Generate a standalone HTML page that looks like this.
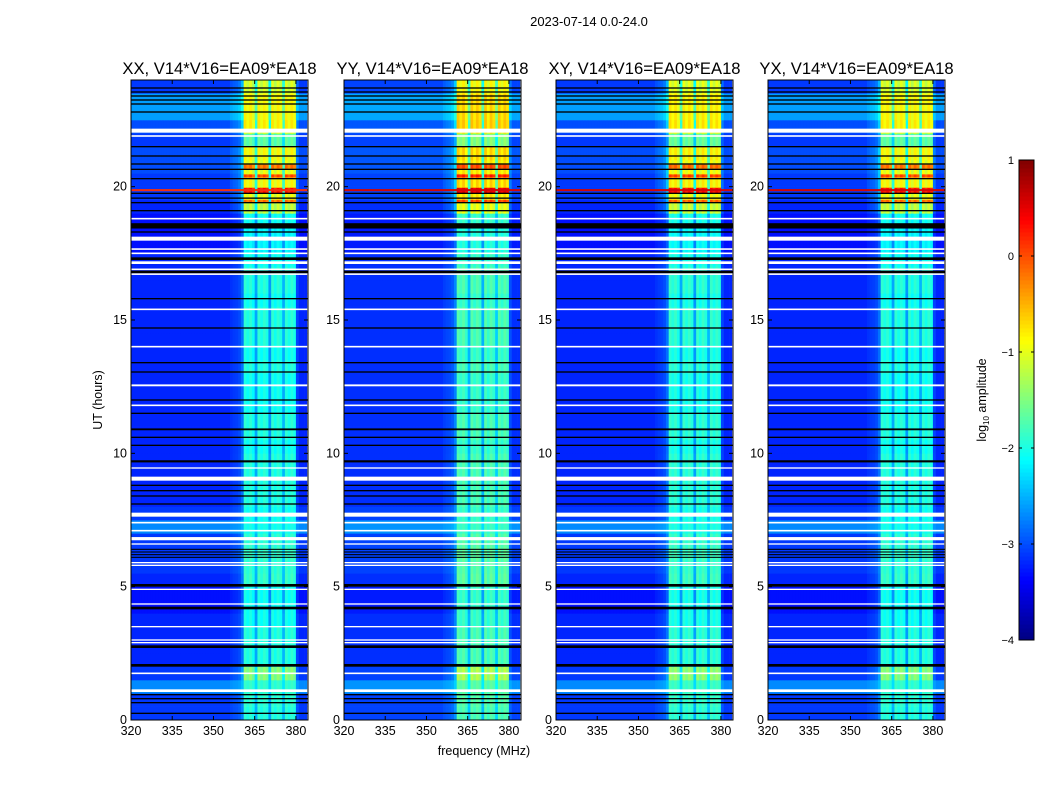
<!DOCTYPE html>
<html><head><meta charset="utf-8">
<style>
body{margin:0;background:#fff;width:1050px;height:800px;overflow:hidden;font-family:"Liberation Sans",sans-serif}
svg text{font-family:"Liberation Sans",sans-serif}
</style></head>
<body>
<svg id="fig" width="1050" height="800" xmlns="http://www.w3.org/2000/svg">
<text x="589" y="26" font-size="13" text-anchor="middle">2023-07-14 0.0-24.0</text>
<text x="484" y="755" font-size="12.5" text-anchor="middle">frequency (MHz)</text>
<text transform="translate(102,400) rotate(-90)" font-size="12.5" text-anchor="middle">UT (hours)</text>
<text transform="translate(986,400) rotate(-90)" font-size="12.5" text-anchor="middle">log<tspan font-size="8" dy="3">10</tspan><tspan dy="-3"> amplitude</tspan></text>
<g id="panels"></g>
<g id="cbar"></g>
</svg>
<script>
// ---- data ----
const panelTitles = ["XX, V14*V16=EA09*EA18","YY, V14*V16=EA09*EA18","XY, V14*V16=EA09*EA18","YX, V14*V16=EA09*EA18"];
const panelLeft = [131,344,556,768];
const xTicks = [320,335,350,365,380];
const yTicks = [0,5,10,15,20];
const cbarTicks = [1,0,-1,-2,-3,-4];
// band weight per 1 MHz bin, 320..384
const colWeight = [0,0,0,0,0,0,0,0,0,0, 0,0,0,0,0,0,0,0,0,0, 0,0,0,0,0,0,0,0,0,0, 0,0,0,0,0,0,0.05,0.08,0.1,0.15, 0.3,1,0.92,1,0.88,0.5,1,0.9,1,0.92, 0.45,1,0.88,1,0.92,0.55,1,0.9,1,0.92, 0.12,0,0,0];
// background log amplitude per 0.5 h, 0..24
const rowBase = [-3.1,-3.1,-2.7,-3.1,-3.2,-3.2,-3.2,-3.2,-3.3,-3.3, -3.2,-3.1,-3.1,-3.1,-2.7,-3.1,-3.2,-3.2,-3.2,-3.2, -3.2,-3.2,-3.2,-3.2,-3.2,-3.2,-3.2,-3.2,-3.2,-3.2, -3.2,-3.2,-3.2,-3.2,-3.2,-3.3,-3.3,-3.3,-3.2,-3.1, -3.1,-3.0,-3.0,-3.1,-3.0,-2.6,-2.6,-3.1];
// band log amplitude per 0.5 h
const rowBand = [-1.9,-1.85,-1.85,-1.4,-1.9,-1.9,-1.9,-2.0,-2.0,-2.0, -1.8,-1.85,-1.8,-1.85,-2.0,-2.0,-1.9,-1.9,-1.9,-1.9, -2.0,-1.9,-1.9,-2.0,-2.0,-2.0,-1.9,-2.0,-1.9,-1.9, -1.9,-2.0,-1.9,-1.9,-2.0,-2.1,-2.1,-2.0,-1.1,-0.9, -0.8,-0.9,-0.8,-1.6,-0.9,-0.8,-0.8,-1.0];
const panelBandShift = [0,0.2,0.05,0.0];
const panelBgShift = [0,0.05,0,0];
// thin rows: [hour, thickness h]
const redRows = [[19.87,0.08]];
// hot rows inside band only: [hour, thickness h, log amplitude]
const hotRows = [[20.75,0.15,-0.1],[20.4,0.12,0.1],[19.85,0.22,0.35],[19.45,0.12,-0.1],[22.3,0.4,-0.75]];
const whiteRows = [[22.1,0.15],[21.9,0.06],[18.8,0.06],[18.05,0.15],[17.66,0.06],[17.5,0.06],[17.15,0.1],[16.9,0.06],[16.72,0.06],[15.4,0.06],[14.0,0.06],[12.55,0.07],[11.8,0.06],[9.45,0.05],[9.05,0.15],[7.7,0.15],[7.4,0.06],[7.1,0.06],[6.8,0.12],[6.6,0.05],[5.9,0.05],[5.8,0.05],[4.9,0.05],[4.35,0.05],[3.5,0.05],[3.0,0.05],[2.9,0.05],[1.75,0.06],[1.1,0.1]];
const blackRows = [[23.7,0.05],[23.55,0.05],[23.4,0.05],[23.25,0.05],[23.1,0.05],[22.8,0.05],[21.5,0.05],[21.15,0.05],[20.85,0.05],[20.65,0.05],[20.3,0.05],[19.75,0.05],[19.57,0.05],[19.4,0.05],[19.1,0.05],[18.53,0.2],[18.3,0.05],[17.3,0.1],[16.8,0.1],[15.8,0.05],[14.7,0.05],[13.4,0.05],[13.05,0.05],[12.0,0.05],[11.5,0.05],[10.9,0.07],[10.6,0.05],[10.3,0.05],[9.7,0.08],[8.8,0.05],[8.6,0.05],[8.4,0.05],[8.1,0.05],[6.4,0.04],[6.3,0.04],[6.2,0.04],[6.1,0.04],[5.05,0.1],[4.2,0.1],[2.75,0.1],[2.05,0.1],[0.95,0.05],[0.8,0.05],[0.65,0.05],[0.25,0.05]];

// ---- scales ----
const W=177, plotTop=80, plotBot=720, fMin=320, fMax=384.4, tMax=24;
const xs = (f,L)=>L+(f-fMin)/(fMax-fMin)*W;
const ys = t=>plotBot-t/tMax*(plotBot-plotTop);
const vMin=-4, vMax=1;
function jet(v){
  let x=(v-vMin)/(vMax-vMin); x=Math.max(0,Math.min(1,x));
  const c=a=>Math.round(255*Math.max(0,Math.min(1,a)));
  const r=c(1.5-Math.abs(4*x-3)), g=c(1.5-Math.abs(4*x-2)), b=c(1.5-Math.abs(4*x-1));
  return `rgb(${r},${g},${b})`;
}
const NS="http://www.w3.org/2000/svg";
function mk(tag,attrs,parent){const e=document.createElementNS(NS,tag);for(const k in attrs)e.setAttribute(k,attrs[k]);parent.appendChild(e);return e;}
const panels=document.getElementById('panels');
const nT=rowBase.length, dT=tMax/nT, nF=colWeight.length;
panelTitles.forEach((title,p)=>{
  const L=panelLeft[p];
  const g=mk('g',{},panels);
  
  
  const t=mk('text',{x:L+W/2,y:74,'font-size':16.6,'text-anchor':'middle'},g);
  t.textContent=title;
  
  
  for(let r=0;r<nT;r++){
    const base=rowBase[r]+panelBgShift[p], band=rowBand[r]+panelBandShift[p];
    const y1=ys((r+1)*dT), y0=ys(r*dT);
    for(let c=0;c<nF;c++){
      const v=base+colWeight[c]*(band-base);
      const x0=xs(fMin+c,L), x1=Math.min(xs(fMin+c+1,L),L+W);
      if(x1<=x0)continue;
      const cell=mk('rect',{x:x0.toFixed(2),y:y1.toFixed(2),width:(x1-x0+0.3).toFixed(2),height:(y0-y1+0.3).toFixed(2),fill:jet(v)},g);
      
      
    }
  }
  hotRows.forEach(([h,th,val])=>{
    for(let c=0;c<nF;c++){
      if(colWeight[c]<0.8)continue;
      const x0=xs(fMin+c,L), x1=Math.min(xs(fMin+c+1,L),L+W);
      const e=mk('rect',{x:x0.toFixed(2),y:ys(h+th/2).toFixed(2),width:(x1-x0+0.3).toFixed(2),height:(ys(h-th/2)-ys(h+th/2)).toFixed(2),fill:jet(val+panelBandShift[p]-(1-colWeight[c])*2)},g);
      
      
    }
  });
  const drawRows=(arr,color,name)=>arr.forEach(([h,th])=>{
    const e=mk('rect',{x:L,y:ys(h+th/2),width:W,height:Math.max(1,ys(h-th/2)-ys(h+th/2)),fill:color},g);
    
    
  });
  drawRows(redRows,p===0?'#f03010':'#d00808','rfi-row');
  drawRows(blackRows,'#000','blank-row');
  drawRows(whiteRows,'#fff','flagged-row');
  const fr=mk('rect',{x:L,y:plotTop,width:W,height:plotBot-plotTop,fill:'none',stroke:'#000','stroke-width':1},g);
  
  
  xTicks.forEach(v=>{
    const x=xs(v,L);
    mk('line',{x1:x,x2:x,y1:plotBot,y2:plotBot-4,stroke:'#000'},g);
    mk('line',{x1:x,x2:x,y1:plotTop,y2:plotTop+4,stroke:'#000'},g);
    const tl=mk('text',{x:x,y:plotBot+15,'font-size':12.5,'text-anchor':'middle'},g);
    tl.textContent=v;
    
    
  });
  yTicks.forEach(v=>{
    const y=ys(v);
    mk('line',{x1:L,x2:L+4,y1:y,y2:y,stroke:'#000'},g);
    mk('line',{x1:L+W,x2:L+W-4,y1:y,y2:y,stroke:'#000'},g);
    const tl=mk('text',{x:L-4,y:y+4,'font-size':12.5,'text-anchor':'end'},g);
    tl.textContent=v;
    
    
  });
});
// colorbar
const cb=document.getElementById('cbar');


const cbL=1019,cbW=15,cbT=160,cbB=640;
const cy=v=>cbB-(v-vMin)/(vMax-vMin)*(cbB-cbT);
for(let i=0;i<120;i++){
  const v0=vMin+i*(vMax-vMin)/120, v1=vMin+(i+1)*(vMax-vMin)/120;
  mk('rect',{x:cbL,y:cy(v1),width:cbW,height:cy(v0)-cy(v1)+0.5,fill:jet((v0+v1)/2)},cb);
}
mk('rect',{x:cbL,y:cbT,width:cbW,height:cbB-cbT,fill:'none',stroke:'#000'},cb);
cbarTicks.forEach(v=>{
  const y=cy(v);
  mk('line',{x1:cbL,x2:cbL+3,y1:y,y2:y,stroke:'#000'},cb);
  mk('line',{x1:cbL+cbW,x2:cbL+cbW-3,y1:y,y2:y,stroke:'#000'},cb);
  const tl=mk('text',{x:1014,y:y+4,'font-size':11,'text-anchor':'end'},cb);
  tl.textContent=v<0?'\u2212'+(-v):v;
  
  
});
</script>
</body></html>
